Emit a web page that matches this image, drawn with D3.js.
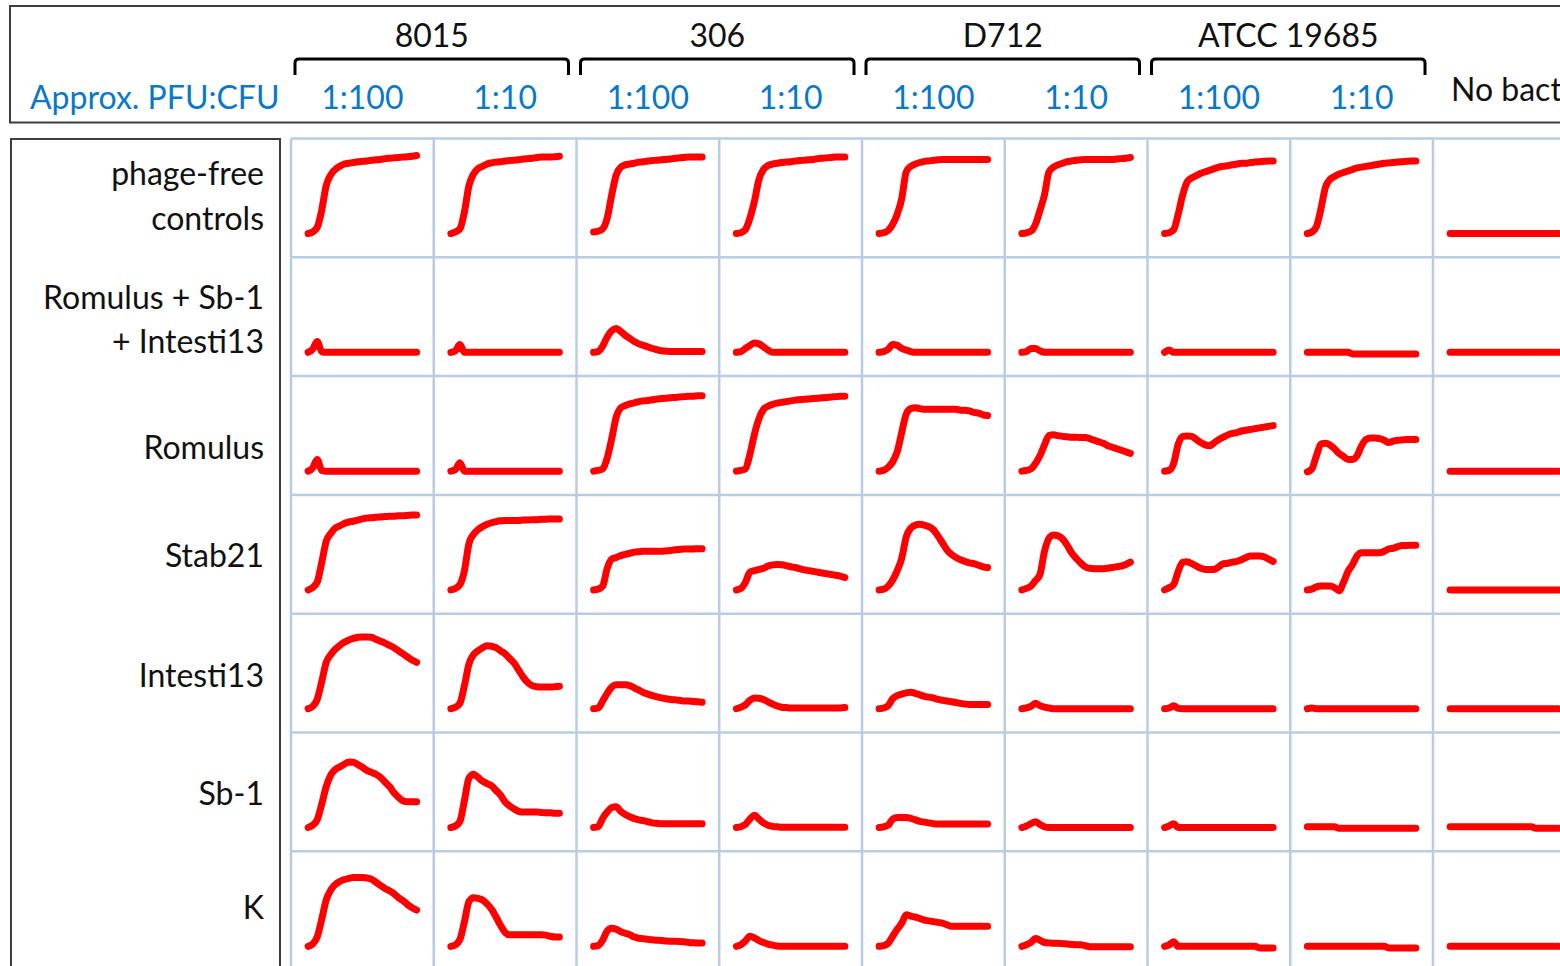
<!DOCTYPE html>
<html>
<head>
<meta charset="utf-8">
<script src="https://cdn.jsdelivr.net/npm/d3@7"></script>
<style>
  body { margin: 0; background: #fff; }
  svg { display: block; font-family: Lato, "Open Sans", sans-serif; }
</style>
</head>
<body>
<svg id="chart" width="1560" height="966"></svg>
<script>

var width = 1560;
var height = 966;
var grid = {left: 291, top: 138.5, colW: 142.75, rowH: 118.8};

// sampling times (h)
var hours = [0,1,2,3,4,5,6,7,8,9,10,11,12,13,14,15,16,17,18,19,20,21,22,23,24];

var strains = ["8015", "306", "D712", "ATCC 19685"];
var ratios = ["1:100", "1:10"];
var noBacteria = "No bacteria";
var ratioTitle = "Approx. PFU:CFU";

var rowLabels = [
  ["phage-free", "controls"],
  ["Romulus + Sb-1", "+ Intesti13"],
  ["Romulus"],
  ["Stab21"],
  ["Intesti13"],
  ["Sb-1"],
  ["K"]
];

// growth curves, one per column: 8015 1:100, 8015 1:10, 306 1:100, 306 1:10,
// D712 1:100, D712 1:10, ATCC 1:100, ATCC 1:10, no bacteria
var controls = [
  [0,0.02,0.08,0.3,0.62,0.76,0.83,0.87,0.9,0.91,0.92,0.93,0.935,0.94,0.95,0.955,0.96,0.97,0.975,0.98,0.985,0.99,0.995,1.0,1.01],
  [0,0.02,0.06,0.28,0.62,0.77,0.84,0.87,0.9,0.915,0.925,0.93,0.94,0.945,0.95,0.955,0.965,0.97,0.975,0.985,0.99,0.99,0.99,0.995,1.0],
  [0.02,0.03,0.06,0.2,0.5,0.76,0.86,0.89,0.9,0.91,0.925,0.93,0.94,0.945,0.95,0.955,0.96,0.965,0.975,0.98,0.985,0.99,0.99,0.99,0.99],
  [0,0.01,0.05,0.2,0.42,0.7,0.83,0.88,0.9,0.91,0.92,0.925,0.93,0.94,0.945,0.95,0.955,0.96,0.97,0.975,0.98,0.985,0.99,0.99,0.99],
  [0,0.01,0.04,0.12,0.25,0.45,0.8,0.87,0.9,0.92,0.935,0.94,0.95,0.955,0.96,0.96,0.96,0.96,0.96,0.96,0.96,0.96,0.96,0.96,0.96],
  [0,0.01,0.03,0.12,0.3,0.5,0.8,0.86,0.89,0.91,0.93,0.94,0.95,0.955,0.96,0.96,0.96,0.96,0.96,0.96,0.96,0.965,0.97,0.975,0.985],
  [0,0.01,0.05,0.25,0.5,0.67,0.72,0.75,0.78,0.8,0.82,0.84,0.86,0.87,0.88,0.89,0.9,0.91,0.91,0.92,0.925,0.93,0.935,0.94,0.94],
  [0,0.02,0.09,0.32,0.6,0.7,0.74,0.77,0.79,0.81,0.83,0.85,0.86,0.87,0.88,0.89,0.9,0.91,0.915,0.92,0.925,0.93,0.935,0.94,0.94],
  [0,0,0,0,0,0,0,0,0,0,0,0,0,0,0,0,0,0,0,0,0,0,0,0,0]
];

var cocktail = [
  [0,0.04,0.14,0.01,0,0,0,0,0,0,0,0,0,0,0,0,0,0,0,0,0,0,0,0,0],
  [0,0.02,0.1,0,0,0,0,0,0,0,0,0,0,0,0,0,0,0,0,0,0,0,0,0,0],
  [0,0.01,0.08,0.2,0.28,0.31,0.27,0.22,0.18,0.14,0.11,0.09,0.07,0.05,0.035,0.02,0.015,0.01,0.01,0.01,0.01,0.01,0.01,0.01,0.01],
  [0,0.01,0.05,0.09,0.12,0.11,0.07,0.03,0,0,0,0,0,0,0,0,0,0,0,0,0,0,0,0,0],
  [0,0.01,0.04,0.1,0.09,0.05,0.03,0.01,0,0,0,0,0,0,0,0,0,0,0,0,0,0,0,0,0],
  [0,0.01,0.05,0.05,0.02,0,0,0,0,0,0,0,0,0,0,0,0,0,0,0,0,0,0,0,0],
  [0,0.03,0,0,0,0,0,0,0,0,0,0,0,0,0,0,0,0,0,0,0,0,0,0,0],
  [0,0,0,0,0,0,0,0,0,0,-0.02,-0.02,-0.02,-0.02,-0.02,-0.02,-0.02,-0.02,-0.02,-0.02,-0.02,-0.02,-0.02,-0.02,-0.02],
  [0,0,0,0,0,0,0,0,0,0,0,0,0,0,0,0,0,0,0,0,0,0,0,0,0]
];

var romulus = [
  [0,0.04,0.15,0.01,0,0,0,0,0,0,0,0,0,0,0,0,0,0,0,0,0,0,0,0,0],
  [0,0.02,0.11,0,0,0,0,0,0,0,0,0,0,0,0,0,0,0,0,0,0,0,0,0,0],
  [0,0.01,0.03,0.17,0.42,0.7,0.82,0.85,0.87,0.885,0.9,0.91,0.915,0.925,0.935,0.94,0.945,0.95,0.955,0.96,0.965,0.97,0.97,0.975,0.975],
  [0,0.01,0.03,0.22,0.48,0.68,0.8,0.84,0.865,0.88,0.89,0.9,0.91,0.92,0.925,0.93,0.935,0.94,0.945,0.95,0.955,0.96,0.965,0.97,0.97],
  [0,0.01,0.05,0.12,0.25,0.5,0.74,0.81,0.82,0.81,0.8,0.8,0.8,0.8,0.8,0.8,0.8,0.8,0.79,0.79,0.78,0.76,0.75,0.73,0.72],
  [0,0.01,0.03,0.1,0.2,0.34,0.46,0.47,0.46,0.45,0.445,0.44,0.44,0.435,0.435,0.42,0.4,0.38,0.36,0.33,0.31,0.29,0.27,0.25,0.23],
  [0,0.01,0.1,0.35,0.45,0.455,0.45,0.41,0.37,0.34,0.33,0.37,0.41,0.44,0.47,0.49,0.5,0.52,0.53,0.54,0.55,0.56,0.57,0.58,0.59],
  [-0.01,0.03,0.2,0.35,0.36,0.34,0.29,0.23,0.19,0.15,0.15,0.2,0.33,0.41,0.43,0.43,0.42,0.4,0.37,0.39,0.4,0.405,0.41,0.41,0.41],
  [0,0,0,0,0,0,0,0,0,0,0,0,0,0,0,0,0,0,0,0,0,0,0,0,0]
];

var stab21 = [
  [0,0.03,0.1,0.35,0.63,0.73,0.8,0.83,0.86,0.88,0.89,0.905,0.92,0.93,0.935,0.94,0.945,0.95,0.955,0.955,0.96,0.96,0.965,0.97,0.97],
  [0,0.02,0.07,0.25,0.6,0.72,0.78,0.82,0.85,0.87,0.885,0.895,0.9,0.9,0.9,0.9,0.905,0.905,0.91,0.91,0.915,0.915,0.92,0.92,0.92],
  [0,0.01,0.05,0.28,0.4,0.42,0.445,0.46,0.475,0.49,0.495,0.5,0.5,0.5,0.5,0.5,0.505,0.51,0.52,0.525,0.53,0.53,0.53,0.535,0.535],
  [0,0.02,0.1,0.23,0.25,0.265,0.28,0.31,0.325,0.33,0.325,0.315,0.3,0.29,0.275,0.26,0.25,0.24,0.23,0.22,0.21,0.2,0.19,0.18,0.16],
  [0,0.01,0.05,0.13,0.25,0.41,0.69,0.8,0.84,0.85,0.84,0.82,0.78,0.7,0.61,0.52,0.46,0.42,0.39,0.37,0.35,0.34,0.32,0.3,0.29],
  [0,0.02,0.05,0.12,0.2,0.5,0.67,0.71,0.7,0.66,0.58,0.48,0.41,0.35,0.3,0.28,0.275,0.275,0.275,0.28,0.29,0.3,0.31,0.33,0.36],
  [0,0.03,0.07,0.24,0.36,0.365,0.34,0.31,0.28,0.265,0.265,0.265,0.3,0.34,0.345,0.36,0.37,0.39,0.42,0.44,0.44,0.44,0.43,0.4,0.37],
  [0,0.01,0.04,0.05,0.05,0.05,0.03,-0.01,0.1,0.24,0.33,0.44,0.48,0.48,0.48,0.48,0.48,0.5,0.53,0.54,0.56,0.575,0.575,0.58,0.58],
  [0,0,0,0,0,0,0,0,0,0,0,0,0,0,0,0,0,0,0,0,0,0,0,0,0]
];

var intesti13 = [
  [0,0.03,0.12,0.35,0.6,0.7,0.77,0.82,0.86,0.89,0.91,0.925,0.93,0.93,0.925,0.9,0.875,0.85,0.82,0.79,0.75,0.71,0.67,0.63,0.6],
  [0,0.02,0.07,0.3,0.58,0.7,0.75,0.79,0.815,0.81,0.79,0.75,0.71,0.65,0.59,0.5,0.41,0.34,0.3,0.285,0.28,0.28,0.28,0.285,0.29],
  [0,0.01,0.1,0.2,0.28,0.31,0.31,0.31,0.3,0.27,0.24,0.21,0.19,0.17,0.155,0.14,0.13,0.12,0.115,0.11,0.1,0.1,0.095,0.09,0.085],
  [0,0.02,0.05,0.11,0.14,0.135,0.12,0.09,0.06,0.035,0.02,0.015,0.01,0.01,0.01,0.01,0.01,0.01,0.01,0.01,0.01,0.01,0.01,0.01,0.015],
  [0,0.01,0.04,0.13,0.17,0.19,0.205,0.215,0.2,0.18,0.16,0.15,0.14,0.12,0.11,0.1,0.09,0.08,0.07,0.06,0.055,0.055,0.055,0.055,0.055],
  [0,0.01,0.03,0.07,0.04,0.02,0.01,0,0,0,0,0,0,0,0,0,0,0,0,0,0,0,0,0,0],
  [0,0.01,0.04,0.005,0,0,0,0,0,0,0,0,0,0,0,0,0,0,0,0,0,0,0,0,0],
  [0,0.01,0,0,0,0,0,0,0,0,0,0,0,0,0,0,0,0,0,0,0,0,0,0,0],
  [0,0,0,0,0,0,0,0,0,0,0,0,0,0,0,0,0,0,0,0,0,0,0,0,0]
];

var sb1 = [
  [0,0.03,0.1,0.3,0.53,0.68,0.75,0.785,0.82,0.85,0.845,0.815,0.78,0.74,0.715,0.69,0.65,0.59,0.53,0.45,0.39,0.345,0.335,0.335,0.335],
  [0,0.02,0.08,0.35,0.64,0.69,0.65,0.6,0.57,0.54,0.48,0.42,0.33,0.28,0.24,0.21,0.2,0.2,0.2,0.2,0.195,0.19,0.19,0.185,0.185],
  [0,0.01,0.12,0.2,0.26,0.27,0.21,0.17,0.14,0.115,0.1,0.09,0.075,0.06,0.055,0.05,0.05,0.05,0.05,0.05,0.05,0.05,0.05,0.05,0.05],
  [0,0.01,0.04,0.11,0.16,0.11,0.06,0.03,0.015,0.01,0.005,0.005,0.005,0.005,0.005,0.005,0.005,0.005,0.005,0.005,0.005,0.005,0.005,0.005,0.005],
  [0,0.01,0.03,0.11,0.13,0.13,0.13,0.12,0.1,0.08,0.07,0.06,0.05,0.045,0.045,0.045,0.045,0.045,0.045,0.045,0.045,0.045,0.045,0.045,0.045],
  [0,0.02,0.05,0.075,0.04,0.01,0,0,0,0,0,0,0,0,0,0,0,0,0,0,0,0,0,0,0],
  [0,0.02,0.05,0,0,0,0,0,0,0,0,0,0,0,0,0,0,0,0,0,0,0,0,0,0],
  [0.01,0.01,0.01,0.01,0.01,0.01,0.01,-0.01,-0.01,-0.01,-0.01,-0.01,-0.01,-0.01,-0.01,-0.01,-0.01,-0.01,-0.01,-0.01,-0.01,-0.01,-0.01,-0.01,-0.01],
  [0.01,0.01,0.01,0.01,0.01,0.01,0.01,0.01,0.01,0.01,0.01,0.01,0.01,0.01,0.01,0.01,0.01,0.01,0.01,-0.01,-0.01,-0.01,-0.01,-0.01,-0.01]
];

var phageK = [
  [0,0.03,0.12,0.35,0.6,0.73,0.8,0.84,0.865,0.88,0.89,0.89,0.89,0.885,0.87,0.83,0.79,0.75,0.72,0.68,0.63,0.59,0.54,0.5,0.47],
  [0,0.02,0.09,0.32,0.58,0.63,0.62,0.6,0.55,0.48,0.38,0.27,0.18,0.15,0.15,0.15,0.15,0.15,0.15,0.15,0.15,0.145,0.13,0.12,0.12],
  [0,0.01,0.08,0.2,0.235,0.22,0.19,0.17,0.15,0.12,0.105,0.1,0.09,0.085,0.08,0.077,0.07,0.065,0.065,0.064,0.06,0.05,0.045,0.043,0.043],
  [0,0.02,0.07,0.13,0.11,0.075,0.05,0.03,0.015,0.005,0,0,0,0,0,0,0,0,0,0,0,0,0,0,0],
  [0,0.01,0.04,0.13,0.22,0.3,0.41,0.39,0.38,0.36,0.34,0.33,0.32,0.31,0.3,0.28,0.26,0.26,0.26,0.26,0.26,0.26,0.26,0.26,0.26],
  [0,0.02,0.05,0.1,0.08,0.05,0.045,0.04,0.04,0.035,0.03,0.025,0.02,0.02,0.01,-0.005,-0.005,-0.005,-0.005,-0.005,-0.005,-0.005,-0.005,-0.005,-0.005],
  [0,0.02,0.06,0,0,0,0,0,0,0,0,0,0,0,0,0,0,0,0,0,0,-0.02,-0.02,-0.02,-0.02],
  [0,0,0,0,0,0,0,0,0,0,0,0,0,0,0,0,0,0,-0.02,-0.02,-0.02,-0.02,-0.02,-0.02,-0.02],
  [0,0,0,0,0,0,0,0,0,0,0,0,0,0,0,0,0,0,0,0,0,0,0,0,0]
];

var rows = [controls, cocktail, romulus, stab21, intesti13, sb1, phageK];

// baseline of each row label, measured from the row's top edge
var labelDy = [[46, 91], [52, 96], [83], [72], [73], [72], [68]];

var blue = "#0a78c8";
var textColor = "#111";
var fontSize = 32;

var columns = [];
strains.forEach(function(s) {
  ratios.forEach(function(r) { columns.push(s + " " + r); });
});
columns.push(noBacteria);

var svg = d3.select("#chart");

var xCol = d3.scaleBand()
  .domain(columns)
  .range([grid.left, grid.left + columns.length * grid.colW]);

var yRow = d3.scaleBand()
  .domain(d3.range(rows.length))
  .range([grid.top, grid.top + rows.length * grid.rowH]);

var bw = xCol.bandwidth();
var bh = yRow.bandwidth();

var x = d3.scaleLinear().domain([0, 24]).range([0.12 * bw, 0.88 * bw]);
var y = d3.scaleLinear().domain([0, 1]).range([0.80 * bh, 0.15 * bh]);

var line = d3.line()
  .x(function(d, i) { return x(hours[i]); })
  .y(function(d) { return y(d); })
  .curve(d3.curveMonotoneX);

// header box
svg.append("rect")
  .attr("x", 10).attr("y", 6)
  .attr("width", 1600).attr("height", 116.5)
  .attr("fill", "none")
  .attr("stroke", "#3d3d3d")
  .attr("stroke-width", 2);

// row label box
svg.append("rect")
  .attr("x", 11).attr("y", 139)
  .attr("width", 269).attr("height", 900)
  .attr("fill", "none")
  .attr("stroke", "#3d3d3d")
  .attr("stroke-width", 2);

// grid
var gridG = svg.append("g").attr("stroke", "#b8cce4").attr("stroke-width", 2.5);
columns.forEach(function(c) {
  gridG.append("line")
    .attr("x1", xCol(c)).attr("x2", xCol(c))
    .attr("y1", grid.top).attr("y2", height + 10);
});
d3.range(rows.length).forEach(function(r) {
  gridG.append("line")
    .attr("x1", grid.left).attr("x2", width + 10)
    .attr("y1", yRow(r)).attr("y2", yRow(r));
});

// curves
rows.forEach(function(rowData, r) {
  rowData.forEach(function(series, c) {
    svg.append("g")
      .attr("transform", "translate(" + xCol(columns[c]) + "," + yRow(r) + ")")
      .append("path")
      .attr("d", line(series))
      .attr("fill", "none")
      .attr("stroke", "#ff0000")
      .attr("stroke-width", 7)
      .attr("stroke-linejoin", "round")
      .attr("stroke-linecap", "round");
  });
});

// strain brackets and names
strains.forEach(function(s, i) {
  var left = xCol(columns[2 * i]) + 4;
  var right = xCol(columns[2 * i + 2]) - 8;
  var top = 59, bottom = 75, r = 4;
  svg.append("path")
    .attr("d", "M" + left + "," + bottom + "L" + left + "," + (top + r) +
      "Q" + left + "," + top + " " + (left + r) + "," + top +
      "L" + (right - r) + "," + top +
      "Q" + right + "," + top + " " + right + "," + (top + r) +
      "L" + right + "," + bottom)
    .attr("fill", "none")
    .attr("stroke", "#000")
    .attr("stroke-width", 3);

  svg.append("text")
    .attr("x", (left + right) / 2)
    .attr("y", 47)
    .attr("text-anchor", "middle")
    .attr("font-size", fontSize)
    .attr("fill", textColor)
    .text(s);
});

// ratio labels
columns.slice(0, 8).forEach(function(c, i) {
  svg.append("text")
    .attr("x", xCol(c) + bw / 2)
    .attr("y", 109)
    .attr("text-anchor", "middle")
    .attr("font-size", fontSize)
    .attr("fill", blue)
    .text(ratios[i % 2]);
});

svg.append("text")
  .attr("x", 30).attr("y", 109)
  .attr("font-size", fontSize)
  .attr("fill", blue)
  .text(ratioTitle);

svg.append("text")
  .attr("x", 1451).attr("y", 101)
  .attr("font-size", fontSize)
  .attr("fill", textColor)
  .text(noBacteria);

// row labels
rowLabels.forEach(function(lines, r) {
  lines.forEach(function(t, k) {
    svg.append("text")
      .attr("x", 264)
      .attr("y", yRow(r) + labelDy[r][k])
      .attr("text-anchor", "end")
      .attr("font-size", fontSize)
      .attr("fill", textColor)
      .text(t);
  });
});

</script>
</body>
</html>
